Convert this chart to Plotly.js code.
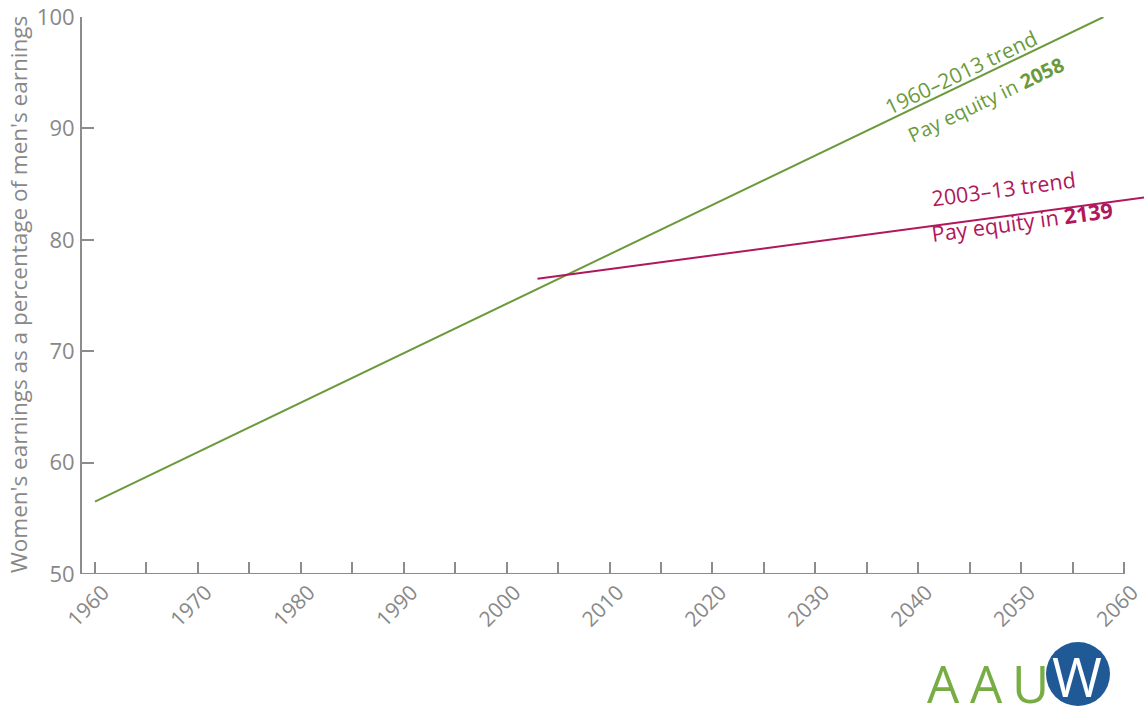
<!DOCTYPE html>
<html>
<head>
<meta charset="utf-8">
<script src="https://cdn.plot.ly/plotly-3.0.1.min.js"></script>
<style>
  html, body { margin: 0; padding: 0; background: #ffffff; }
  #chart { width: 1144px; height: 719px; }
</style>
</head>
<body>
<div id="chart"></div>
<script>
// Long-run trend: women's earnings as % of men's, 1960–2013 fit, reaching 100 in 2058
const longTrendYears = [1960, 2058];
const longTrendValues = [56.5, 100];

// Recent trend: 2003–13 fit, drawn to the right edge of the plot
const recentTrendYears = [2003, 2062];
const recentTrendValues = [76.5, 83.8];

// Axis ticks
const xTickYears = [1960, 1970, 1980, 1990, 2000, 2010, 2020, 2030, 2040, 2050, 2060];
const yTickValues = [50, 60, 70, 80, 90, 100];

const GREEN = '#6b9a3c';
const MAGENTA = '#b0175c';
const AXIS_GRAY = '#8c8c8c';
const TEXT_GRAY = '#888888';
const FONT = '"Open Sans", "Noto Sans", sans-serif';

// plot box in pixels, used to place the logo and side title in paper units
const L = 82, T = 17, W = 1062, H = 557;
const px = (x) => (x - L) / W;
const py = (y) => (T + H - y) / H;

const traces = [
  {
    x: longTrendYears, y: longTrendValues,
    type: 'scatter', mode: 'lines',
    line: { color: GREEN, width: 2 },
    hoverinfo: 'skip', showlegend: false, cliponaxis: false
  },
  {
    x: recentTrendYears, y: recentTrendValues,
    type: 'scatter', mode: 'lines',
    line: { color: MAGENTA, width: 2 },
    hoverinfo: 'skip', showlegend: false
  }
];

const xMin = 1958.74, xMax = 2061.94;

const logoLetters = [
  { ch: 'A', x: 943 },
  { ch: 'A', x: 986 },
  { ch: 'U', x: 1030 }
];

const centered = { xanchor: 'center', yanchor: 'middle', showarrow: false };

const layout = {
  width: 1144, height: 719,
  margin: { l: L, r: 0, t: T, b: 719 - T - H },
  paper_bgcolor: '#ffffff', plot_bgcolor: '#ffffff',
  font: { family: FONT, color: TEXT_GRAY, size: 20 },
  showlegend: false,
  xaxis: {
    range: [xMin, xMax],
    tickvals: xTickYears,
    ticktext: xTickYears.map(String),
    tickangle: -45,
    ticks: 'inside', ticklen: 12, tickwidth: 2, tickcolor: AXIS_GRAY,
    minor: { dtick: 5, tick0: 1960, ticks: 'inside', ticklen: 12, tickwidth: 2, tickcolor: AXIS_GRAY, showgrid: false },
    showline: false, showgrid: false, zeroline: false,
    tickfont: { family: FONT, size: 21, color: TEXT_GRAY },
    ticklabelshift: 8,
    ticklabelstandoff: 1,
    fixedrange: true
  },
  yaxis: {
    range: [50, 100],
    tickvals: yTickValues,
    ticks: 'inside', ticklen: 12, tickwidth: 2, tickcolor: AXIS_GRAY,
    showline: true, linecolor: AXIS_GRAY, linewidth: 2,
    showgrid: false, zeroline: false,
    tickfont: { family: FONT, size: 22, color: TEXT_GRAY },
    ticklabelstandoff: 1,
    fixedrange: true
  },
  shapes: [
    // x baseline stops at 2060
    {
      type: 'line', xref: 'x', yref: 'y',
      x0: xMin, x1: 2060, y0: 50, y1: 50,
      line: { color: AXIS_GRAY, width: 2 }
    },
    // logo circle
    {
      type: 'circle', xref: 'paper', yref: 'paper',
      x0: px(1046), x1: px(1110), y0: py(706), y1: py(642),
      fillcolor: '#1f5a96', line: { width: 0 }, layer: 'below'
    }
  ],
  annotations: [
    {
      ...centered, xref: 'paper', yref: 'paper',
      x: px(18), y: py(295),
      text: "Women's earnings as a percentage of men's earnings",
      textangle: -90,
      font: { family: FONT, size: 22.5, color: TEXT_GRAY }
    },
    {
      ...centered, x: 2044.2, y: 95.1, xref: 'x', yref: 'y',
      text: '1960–2013 trend', textangle: -25.6,
      font: { family: FONT, size: 21, color: GREEN }
    },
    {
      ...centered, x: 2046.6, y: 92.6, xref: 'x', yref: 'y',
      text: 'Pay equity in <b>2058</b>', textangle: -25.6,
      font: { family: FONT, size: 20, color: GREEN }
    },
    {
      ...centered, x: 2048.3, y: 84.6, xref: 'x', yref: 'y',
      text: '2003–13 trend', textangle: -7.6,
      font: { family: FONT, size: 21.5, color: MAGENTA }
    },
    {
      ...centered, x: 2050.1, y: 81.6, xref: 'x', yref: 'y',
      text: 'Pay equity in <b>2139</b>', textangle: -7.6,
      font: { family: FONT, size: 21.5, color: MAGENTA }
    },
    // logo lettering
    ...logoLetters.map(l => ({
      ...centered, xref: 'paper', yref: 'paper',
      x: px(l.x), y: py(683),
      text: l.ch,
      font: { family: FONT, size: 51, color: '#78ad45' }
    })),
    {
      ...centered, xref: 'paper', yref: 'paper',
      x: px(1077), y: py(676),
      text: 'W',
      font: { family: FONT, size: 54, color: '#ffffff' }
    }
  ]
};

Plotly.newPlot('chart', traces, layout, { displayModeBar: false, staticPlot: true });
</script>
</body>
</html>
